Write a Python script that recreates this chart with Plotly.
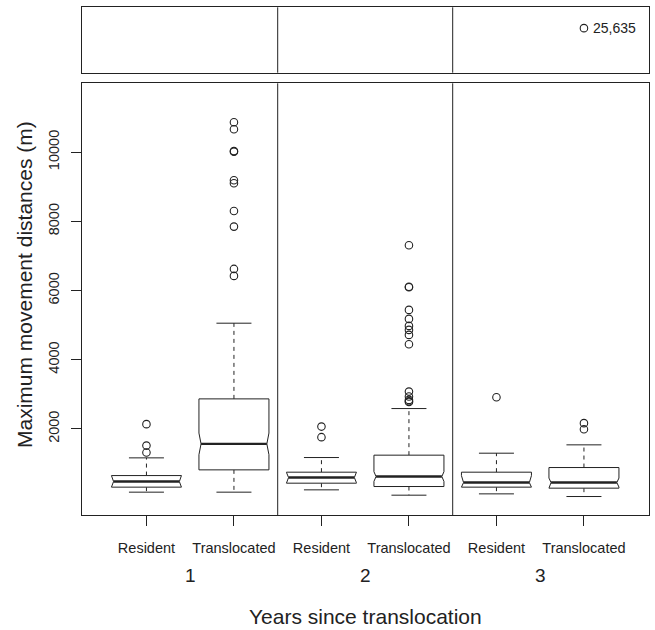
import plotly.graph_objects as go

# ---------------- data ----------------
years = ["1", "2", "3"]
groups = ["Resident", "Translocated"]
tick_labels = ["Resident", "Translocated", "Resident", "Translocated", "Resident", "Translocated"]

lower_whisker = [170, 170, 237, 83, 121, 44]
q1 = [315, 815, 430, 333, 315, 286]
median = [477, 1566, 593, 622, 448, 448]
q3 = [650, 2867, 748, 1240, 748, 882]
upper_whisker = [1162, 5055, 1171, 2587, 1297, 1538]
notch_half = [200, 313, 150, 140, 200, 130]

outliers = [
    [1315, 1517, 2136],
    [6422, 6624, 7847, 8300, 9101, 9188, 10014, 10030, 10662, 10864],
    [1760, 2066],
    [2780, 2800, 2838, 2934, 3078, 4448, 4717, 4861, 4977, 5179, 5439, 6095, 6110, 7309],
    [2916],
    [1991, 2165],
]
# outliers shown in the upper (broken) panel
upper_outliers = [[], [], [], [], [], [25635]]
upper_labels = [[], [], [], [], [], ["25,635"]]

y_ticks = [2000, 4000, 6000, 8000, 10000]

# ---------------- layout helpers ----------------
W, H = 655, 630
INK = "#222222"
FONT = "Liberation Sans, Arial, Helvetica, sans-serif"
BOXW = 0.8          # box width (R boxwex)
STAPLE = 0.5        # staple width relative to box
NOTCH_FRAC = 0.94   # box half-width at the median notch

x_dom = [81.7 / W, 648.7 / W]
low_dom = [(H - 515.0) / H, (H - 83.3) / H]
up_dom = [(H - 72.7) / H, (H - 7.3) / H]

n = len(median)
pos = list(range(1, n + 1))
hw = BOXW / 2

bx, by, mx, my, wx, wy, sx, sy = [], [], [], [], [], [], [], []
ox, oy = [], []
for i, c in enumerate(pos):
    lo = max(q1[i], median[i] - notch_half[i])
    hi = min(q3[i], median[i] + notch_half[i])
    bx += [c - hw, c + hw, c + hw, c + NOTCH_FRAC * hw, c + hw, c + hw,
           c - hw, c - hw, c - NOTCH_FRAC * hw, c - hw, c - hw, None]
    by += [q1[i], q1[i], lo, median[i], hi, q3[i],
           q3[i], hi, median[i], lo, q1[i], None]
    mx += [c - NOTCH_FRAC * hw, c + NOTCH_FRAC * hw, None]
    my += [median[i], median[i], None]
    wx += [c, c, None, c, c, None]
    wy += [q3[i], upper_whisker[i], None, q1[i], lower_whisker[i], None]
    sw = hw * STAPLE
    sx += [c - sw, c + sw, None, c - sw, c + sw, None]
    sy += [upper_whisker[i], upper_whisker[i], None, lower_whisker[i], lower_whisker[i], None]
    for v in outliers[i]:
        ox.append(c)
        oy.append(v)

ux, uy, ut = [], [], []
for i, c in enumerate(pos):
    for v, t in zip(upper_outliers[i], upper_labels[i]):
        ux.append(c)
        uy.append(v)
        ut.append(t)

fig = go.Figure()
line = dict(color=INK, width=1)
fig.add_trace(go.Scatter(x=wx, y=wy, mode="lines", line=dict(color=INK, width=1, dash="4px,4px"),
                         hoverinfo="skip", showlegend=False))
fig.add_trace(go.Scatter(x=sx, y=sy, mode="lines", line=line, hoverinfo="skip", showlegend=False))
fig.add_trace(go.Scatter(x=bx, y=by, mode="lines", line=line, fill="toself", fillcolor="white",
                         hoverinfo="skip", showlegend=False))
fig.add_trace(go.Scatter(x=mx, y=my, mode="lines", line=dict(color=INK, width=2.4),
                         hoverinfo="skip", showlegend=False))
fig.add_trace(go.Scatter(x=ox, y=oy, mode="markers",
                         marker=dict(symbol="circle-open", size=7.5, color=INK, line=dict(width=1.1)),
                         showlegend=False))
fig.add_trace(go.Scatter(x=ux, y=uy, mode="markers",
                         marker=dict(symbol="circle-open", size=7.5, color=INK, line=dict(width=1.1)),
                         xaxis="x2", yaxis="y2", showlegend=False))
for xv, yv, tv in zip(ux, uy, ut):
    fig.add_annotation(x=xv, y=yv, xref="x2", yref="y2", text=tv, showarrow=False,
                       xanchor="left", yanchor="middle", xshift=7,
                       font=dict(family=FONT, size=14, color=INK))

xr = [0.5 - 0.04 * n, n + 0.5 + 0.04 * n]
fig.update_layout(
    width=W, height=H,
    margin=dict(l=0, r=0, t=0, b=0),
    paper_bgcolor="white", plot_bgcolor="white",
    font=dict(family=FONT, color=INK),
    xaxis=dict(domain=x_dom, anchor="y", range=xr, showgrid=False, zeroline=False,
               showline=True, mirror=True, linecolor=INK, linewidth=1,
               tickmode="array", tickvals=pos, ticktext=tick_labels,
               ticks="outside", ticklen=10, tickcolor=INK, tickwidth=1,
               tickfont=dict(size=14.5, color=INK), ticklabelstandoff=10, automargin=False),
    yaxis=dict(domain=low_dom, anchor="x", range=[-490, 11990], showgrid=False, zeroline=False,
               showline=True, mirror=True, linecolor=INK, linewidth=1,
               tickmode="array", tickvals=y_ticks, ticktext=[str(v) for v in y_ticks],
               ticks="outside", ticklen=10, tickcolor=INK, tickwidth=1, tickangle=-90,
               tickfont=dict(size=14.5, color=INK), ticklabelstandoff=6, automargin=False),
    xaxis2=dict(domain=x_dom, anchor="y2", range=xr, showgrid=False, zeroline=False,
                showline=True, mirror=True, linecolor=INK, linewidth=1,
                showticklabels=False, ticks="", automargin=False),
    yaxis2=dict(domain=up_dom, anchor="x2", range=[24000, 26400], showgrid=False, zeroline=False,
                showline=True, mirror=True, linecolor=INK, linewidth=1,
                showticklabels=False, ticks="", automargin=False),
)

# dividers between year groups
for k in range(1, len(years)):
    xb = k * len(groups) + 0.5
    for xref, yref in (("x", "y domain"), ("x2", "y2 domain")):
        fig.add_shape(type="line", xref=xref, yref=yref, x0=xb, x1=xb, y0=0, y1=1,
                      line=dict(color=INK, width=1))

# year labels
for k, yv in enumerate(years):
    fig.add_annotation(x=k * len(groups) + (len(groups) + 1) / 2, xref="x",
                       y=(H - 575.5) / H, yref="paper", text=yv, showarrow=False,
                       font=dict(size=19, color=INK), xanchor="center", yanchor="middle")

fig.add_annotation(x=(x_dom[0] + x_dom[1]) / 2, xref="paper", y=(H - 616) / H, yref="paper",
                   text="Years since translocation", showarrow=False,
                   font=dict(size=21, color=INK), xanchor="center", yanchor="middle")
fig.add_annotation(x=25 / W, xref="paper", y=(H - 285) / H,
                   yref="paper", text="Maximum movement distances (m)", showarrow=False,
                   textangle=-90, font=dict(size=21, color=INK), xanchor="center", yanchor="middle")

fig.write_html("out.html", config={"displayModeBar": False},
               post_script="document.body.style.margin='0';document.body.style.overflow='hidden';")
